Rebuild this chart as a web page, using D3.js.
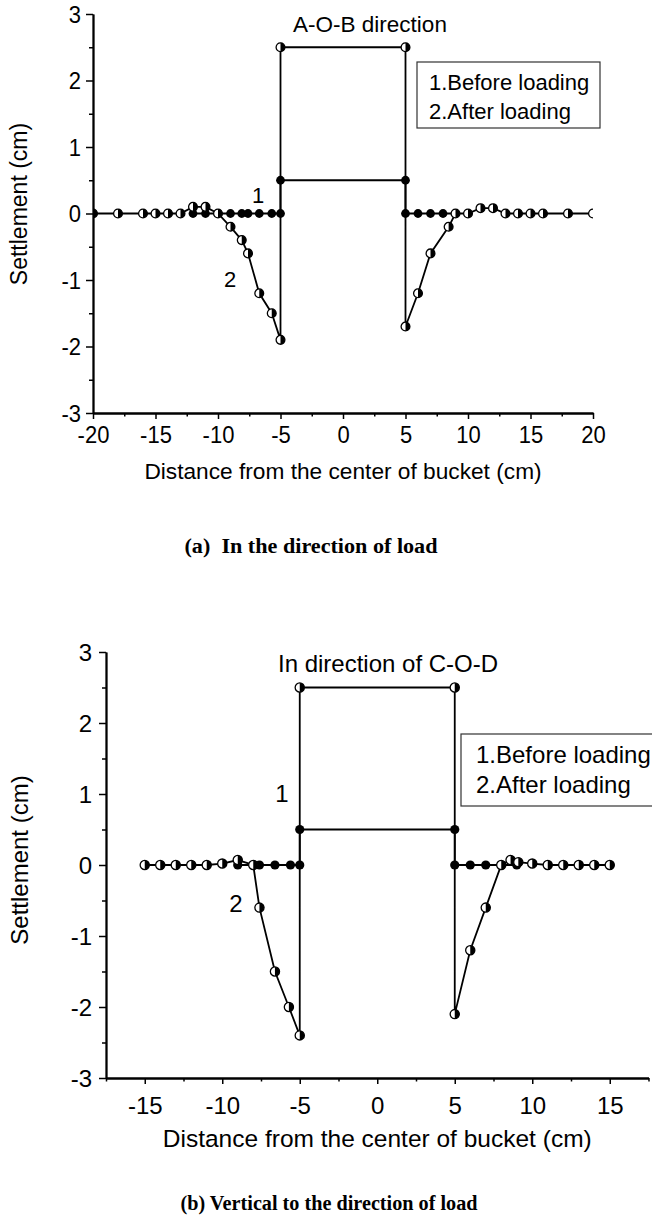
<!DOCTYPE html>
<html><head><meta charset="utf-8">
<script src="https://cdn.jsdelivr.net/npm/d3@7"></script>
<style>body{margin:0;background:#fff}</style>
</head><body>
<svg id="c" width="652" height="1220" xmlns="http://www.w3.org/2000/svg"></svg>
<script>
// ---------- data ----------
const yTicks = [-3, -2, -1, 0, 1, 2, 3];
const yMinor = [-2.5, -1.5, -0.5, 0.5, 1.5, 2.5];
const xTicksA = [-20, -15, -10, -5, 0, 5, 10, 15, 20];
const xMinorA = [-17.5, -12.5, -7.5, -2.5, 2.5, 7.5, 12.5, 17.5];
const xTicksB = [-15, -10, -5, 0, 5, 10, 15];
const xMinorB = [-17.5, -12.5, -7.5, -2.5, 2.5, 7.5, 12.5, 17.5];

const legendLines = ["1.Before loading", "2.After loading"];

// (a) A-O-B direction
const beforeAX = [-12, -11, -10, -9, -8.1, -7.6, -6.7, -5.7, -5, -5, 5, 5, 6, 7, 8, 9];
const beforeAY = [0, 0, 0, 0, 0, 0, 0, 0, 0, 0.5, 0.5, 0, 0, 0, 0, 0];
const afterAX = [-20, -18, -16, -15, -14, -13, -12, -11, -10, -9, -8.1, -7.6, -6.7, -5.7, -5, -5, 5, 5, 6, 7, 8.45, 9, 10, 11, 12, 13, 14, 15, 16, 18, 20];
const afterAY = [0, 0, 0, 0, 0, 0, 0.1, 0.1, 0, -0.2, -0.4, -0.6, -1.2, -1.5, -1.9, 2.5, 2.5, -1.7, -1.2, -0.6, -0.2, 0, 0, 0.08, 0.08, 0, 0, 0, 0, 0, 0];

// (b) C-O-D direction
const beforeBX = [-9, -8, -7.6, -6.6, -5.6, -5, -5, 5, 5, 6, 7, 8, 9];
const beforeBY = [0, 0, 0, 0, 0, 0, 0.5, 0.5, 0, 0, 0, 0, 0];
const afterBX = [-15, -14, -13, -12, -11, -10, -9, -8, -7.6, -6.6, -5.7, -5, -5, 5, 5, 6, 7, 8, 8.6, 9.1, 10, 11, 12, 13, 14, 15];
const afterBY = [0, 0, 0, 0, 0, 0.02, 0.07, 0, -0.6, -1.5, -2.0, -2.4, 2.5, 2.5, -2.1, -1.2, -0.6, 0, 0.07, 0.04, 0.02, 0, 0, 0, 0, 0];

// ---------- drawing ----------
const svg = d3.select("#c");
const SANS = "'Liberation Sans', Arial, Helvetica, sans-serif";
const SERIF = "'Liberation Serif', 'Times New Roman', serif";

function txt(g, x, y, s, size, anchor, sy) {
  return g.append("text")
    .attr("transform", `translate(${x},${y}) scale(1,${sy || 1})`)
    .attr("font-family", SANS).attr("font-size", size)
    .attr("text-anchor", anchor || "start").attr("fill", "#000")
    .text(s);
}

function zip(xs, ys) { return xs.map((d, i) => [d, ys[i]]); }

function drawPanel(p) {
  const g = svg.append("g");
  const x = d3.scaleLinear().domain(p.xDomain).range(p.xRange);
  const y = d3.scaleLinear().domain([-3, 3]).range(p.yRange);
  const id = "clip" + p.key;
  svg.append("clipPath").attr("id", id).append("rect")
    .attr("x", p.xRange[0]).attr("y", 0)
    .attr("width", p.xRange[1] - p.xRange[0]).attr("height", p.yRange[0] + 1);

  // axes
  const xAx = g.append("g").attr("transform", `translate(0,${p.yRange[0]})`);
  xAx.call(d3.axisBottom(x).tickValues(p.xMinor).tickSize(3.5).tickFormat("").tickSizeOuter(0));
  xAx.append("g").call(d3.axisBottom(x).tickValues(p.xTicks).tickSize(6).tickSizeOuter(0).tickFormat(d => String(d)));
  xAx.selectAll("path").attr("stroke", "#000").attr("stroke-width", 1.8);
  xAx.selectAll("line").attr("stroke", "#000").attr("stroke-width", 1.5);
  xAx.selectAll("text")
    .attr("y", null).attr("dy", null)
    .attr("transform", `translate(0,${p.xLabelOff}) scale(1,${p.tickSY})`)
    .attr("font-family", SANS).attr("font-size", p.tickFont).attr("fill", "#000");

  const yAx = g.append("g").attr("transform", `translate(${p.xRange[0]},0)`);
  yAx.call(d3.axisLeft(y).tickValues(yMinor).tickSize(4).tickFormat("").tickSizeOuter(0));
  yAx.append("g").call(d3.axisLeft(y).tickValues(yTicks).tickSize(7).tickSizeOuter(0).tickFormat(d => String(d)));
  yAx.selectAll("path").attr("stroke", "#000").attr("stroke-width", 1.8);
  yAx.selectAll("line").attr("stroke", "#000").attr("stroke-width", 1.5);
  yAx.selectAll("text")
    .attr("x", null).attr("dy", null)
    .attr("transform", `translate(${-p.yLabelGap},${p.yLabelDy}) scale(1,${p.tickSY})`)
    .attr("font-family", SANS).attr("font-size", p.tickFont).attr("fill", "#000");

  // data
  const plot = g.append("g").attr("clip-path", `url(#${id})`);
  const line = d3.line().x(d => x(d[0])).y(d => y(d[1]));
  const after = zip(p.afterX, p.afterY);
  const before = zip(p.beforeX, p.beforeY);
  plot.append("path").attr("d", line(after)).attr("fill", "none").attr("stroke", "#000").attr("stroke-width", 1.8);
  plot.append("path").attr("d", line(before)).attr("fill", "none").attr("stroke", "#000").attr("stroke-width", 1.8);
  const r = p.r;
  plot.selectAll("circle.b").data(before).enter().append("circle")
    .attr("cx", d => x(d[0])).attr("cy", d => y(d[1])).attr("r", r).attr("fill", "#000");
  const hm = plot.selectAll("g.h").data(after).enter().append("g")
    .attr("transform", d => `translate(${x(d[0])},${y(d[1])})`);
  hm.append("circle").attr("r", r).attr("fill", "#fff").attr("stroke", "#000").attr("stroke-width", 1.3);
  hm.append("path").attr("d", `M0,${-r} A${r},${r} 0 0 1 0,${r} Z`).attr("fill", "#000");

  // texts
  txt(g, p.title[1], p.title[2], p.title[0], p.titleFont, "middle");
  txt(g, p.lab1[0], p.lab1[1], "1", p.labFont, "middle");
  txt(g, p.lab2[0], p.lab2[1], "2", p.labFont, "middle");
  g.append("rect").attr("x", p.legend[0]).attr("y", p.legend[1])
    .attr("width", p.legend[2]).attr("height", p.legend[3])
    .attr("fill", "#fff").attr("stroke", "#333").attr("stroke-width", 1.2);
  legendLines.forEach((s, i) => txt(g, p.legendText[0], p.legendText[1] + i * p.legendText[2], s, p.legendFont, "start"));

  txt(g, (p.xRange[0] + p.xRange[1]) / 2, p.xTitleY, "Distance from the center of bucket (cm)", p.xTitleFont, "middle");
  g.append("text")
    .attr("transform", `translate(${p.yTitle[0]},${p.yTitle[1]}) rotate(-90)`)
    .attr("font-family", SANS).attr("font-size", p.yTitleFont).attr("text-anchor", "middle")
    .text("Settlement (cm)");

  g.append("text")
    .attr("x", p.caption[1]).attr("y", p.caption[2])
    .attr("font-family", SERIF).attr("font-weight", "bold").attr("font-size", 20)
    .attr("text-anchor", "middle").style("white-space", "pre")
    .attr("textLength", p.caption[3]).attr("lengthAdjust", "spacingAndGlyphs")
    .text(p.caption[0]);
}

drawPanel({
  key: "a", xDomain: [-20, 20], xRange: [93, 593], yRange: [413, 14],
  xTicks: xTicksA, xMinor: xMinorA,
  tickFont: 22, tickSY: 1.1, xLabelOff: 30, yLabelGap: 12, yLabelDy: 8,
  afterX: afterAX, afterY: afterAY, beforeX: beforeAX, beforeY: beforeAY, r: 4.4,
  title: ["A-O-B direction", 370, 32], titleFont: 22.5,
  lab1: [258, 203], lab2: [230, 287], labFont: 22,
  legend: [417, 62, 183, 66], legendText: [429, 90, 29], legendFont: 22,
  xTitleY: 479, xTitleFont: 22.7,
  yTitle: [27, 204], yTitleFont: 23,
  caption: ["(a)  In the direction of load", 311, 553, 253]
});

drawPanel({
  key: "b", xDomain: [-17.5, 17.5], xRange: [106, 648.5], yRange: [1078, 652],
  xTicks: xTicksB, xMinor: xMinorB,
  tickFont: 24, tickSY: 1.0, xLabelOff: 36, yLabelGap: 14, yLabelDy: 8.5,
  afterX: afterBX, afterY: afterBY, beforeX: beforeBX, beforeY: beforeBY, r: 4.6,
  title: ["In direction of C-O-D", 388, 672], titleFont: 24,
  lab1: [282, 802], lab2: [236, 912], labFont: 24,
  legend: [461, 734, 200, 72], legendText: [476, 763, 30], legendFont: 24,
  xTitleY: 1147, xTitleFont: 24.5,
  yTitle: [28, 860], yTitleFont: 24,
  caption: ["(b) Vertical to the direction of load", 329, 1210, 297]
});
</script>
</body></html>
